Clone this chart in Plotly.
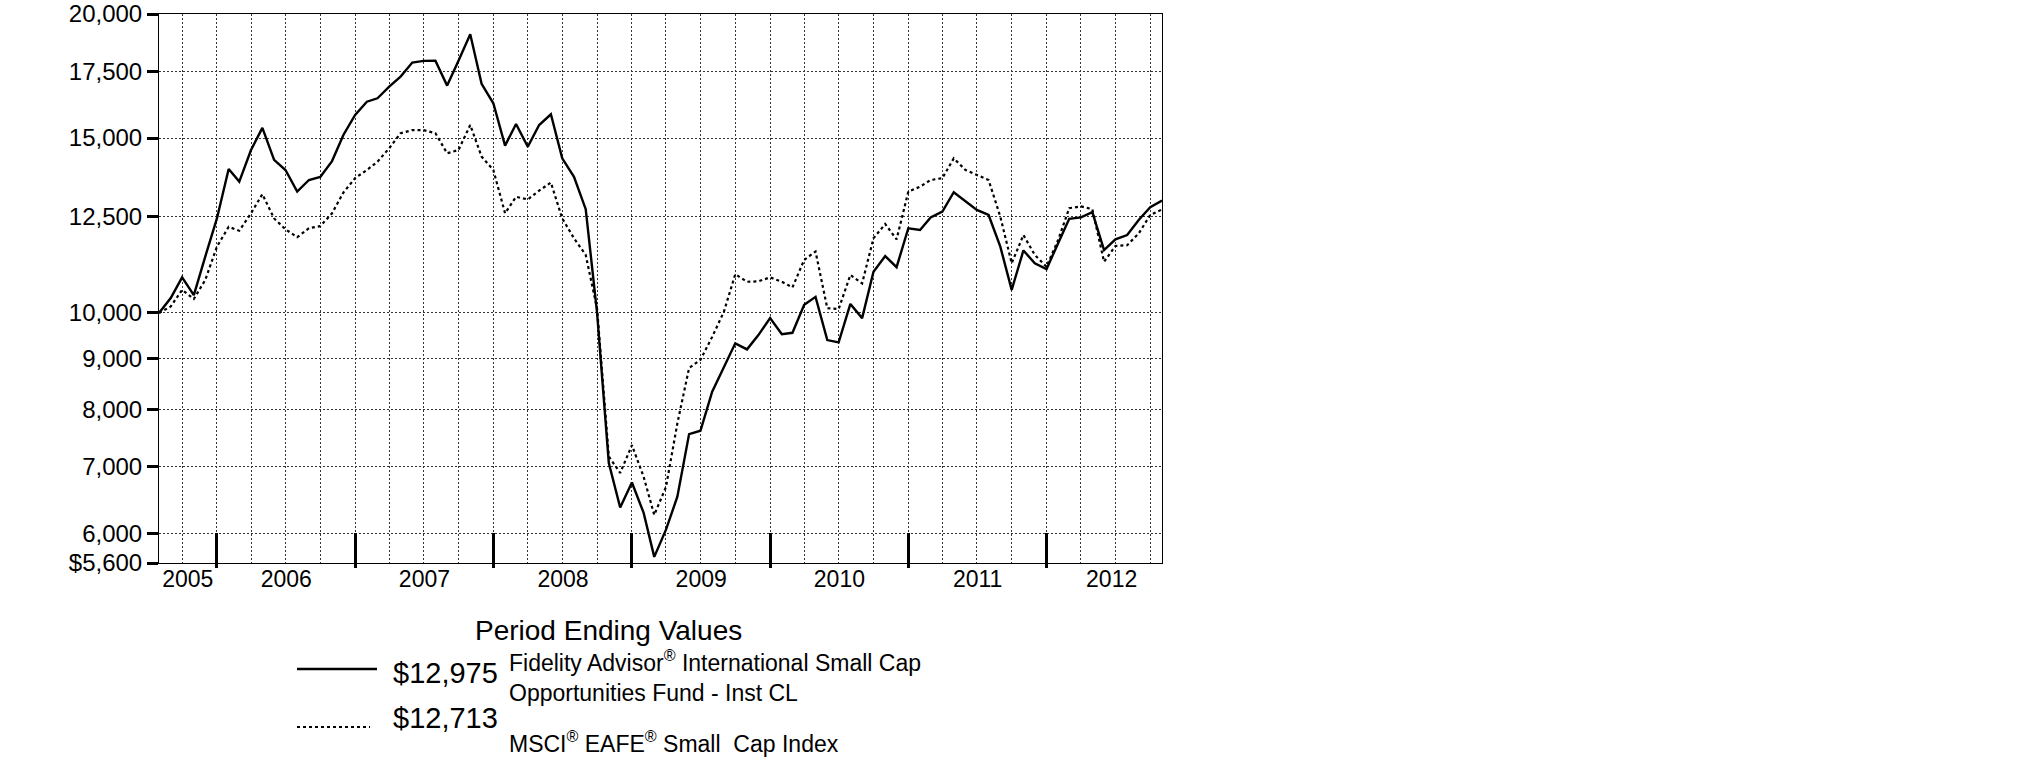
import math
import pandas as pd
import plotly.graph_objects as go

# ---------------- data ----------------
fund_values = [
    10000, 10350, 10860, 10420, 11390, 12450, 13960, 13560, 14590, 15360,
    14260, 13930, 13250, 13610, 13710, 14220, 15110, 15830, 16320, 16450,
    16900, 17300, 17870, 17940, 17950, 16940, 17950, 19080, 17010, 16260,
    14740, 15500, 14700, 15460, 15850, 14310, 13710, 12720, 10000, 7060,
    6370, 6750, 6290, 5680, 6050, 6530, 7550, 7610, 8330, 8830,
    9320, 9190, 9500, 9880, 9520, 9550, 10190, 10380, 9390, 9340,
    10210, 9880, 11000, 11410, 11120, 12170, 12120, 12480, 12650, 13230,
    12970, 12700, 12550, 11660, 10550, 11560, 11220, 11070, 11760, 12440,
    12480, 12630, 11570, 11860, 11980, 12410, 12780, 12975,
]
index_values = [
    10000, 10150, 10550, 10330, 10790, 11660, 12210, 12100, 12600, 13170,
    12450, 12140, 11920, 12170, 12230, 12600, 13220, 13670, 13930, 14200,
    14650, 15170, 15280, 15280, 15170, 14480, 14590, 15460, 14370, 13930,
    12600, 13090, 13010, 13280, 13530, 12450, 11890, 11440, 10100, 7170,
    6900, 7360, 6840, 6260, 6680, 7740, 8800, 8970, 9460, 10030,
    10940, 10750, 10760, 10860, 10750, 10610, 11310, 11530, 10110, 10090,
    10920, 10710, 11890, 12290, 11860, 13250, 13400, 13610, 13670, 14310,
    13930, 13760, 13610, 12500, 11220, 11980, 11440, 11130, 11850, 12750,
    12800, 12720, 11260, 11680, 11700, 12030, 12550, 12713,
]
start_date = "2005-07-31"
end_date = "2012-10-31"
dates = [d.strftime("%Y-%m-%d") for d in
         pd.date_range(start_date, periods=len(fund_values), freq=pd.offsets.MonthEnd())]

year_ends = ["2005-12-31", "2006-12-31", "2007-12-31", "2008-12-31",
             "2009-12-31", "2010-12-31", "2011-12-31"]
quarter_ends = [d.strftime("%Y-%m-%d") for d in
                pd.date_range("2005-09-30", "2012-09-30", freq=pd.offsets.QuarterEnd())]
year_labels = ["2005", "2006", "2007", "2008", "2009", "2010", "2011", "2012"]
year_label_dates = ["2005-10-15", "2006-07-02", "2007-07-02", "2008-07-02",
                    "2009-07-02", "2010-07-02", "2011-07-02", "2012-06-20"]

y_tick_values = [5600, 6000, 7000, 8000, 9000, 10000, 12500, 15000, 17500, 20000]
y_tick_labels = ["$5,600", "6,000", "7,000", "8,000", "9,000", "10,000",
                 "12,500", "15,000", "17,500", "20,000"]

fund_name = ("Fidelity Advisor<sup>®</sup> International Small Cap<br>"
             "Opportunities Fund - Inst CL")
index_name = "MSCI<sup>®</sup> EAFE<sup>®</sup> Small\u00a0 Cap Index"
fund_end_label = "$12,975"
index_end_label = "$12,713"
legend_title = "Period Ending Values"

# ---------------- layout geometry (pixels) ----------------
W, H = 2025, 773
PL, PR, PT, PB = 159, 1162, 14, 563
FONT = "Liberation Sans, Arial, Helvetica, sans-serif"
GRID = "#333333"
GDASH = "2px,2px"


def px(x):
    return (x - PL) / (PR - PL)


def py(y):
    return (PB - y) / (PB - PT)


fig = go.Figure()
fig.add_trace(go.Scatter(x=dates, y=index_values, mode="lines",
                         line=dict(color="black", width=2.2, dash="3px,3px"),
                         showlegend=False, hoverinfo="skip"))
fig.add_trace(go.Scatter(x=dates, y=fund_values, mode="lines",
                         line=dict(color="black", width=2.4),
                         showlegend=False, hoverinfo="skip"))
# helper traces so the overlaid label / tick axes are drawn
for ax in ("x2", "x3", "x4"):
    fig.add_trace(go.Scatter(x=dates, y=fund_values, mode="none", xaxis=ax,
                             showlegend=False, hoverinfo="skip"))

common_x = dict(type="date", range=[start_date, end_date], zeroline=False,
                automargin=False)

fig.update_layout(
    width=W, height=H,
    margin=dict(l=PL, r=W - PR, t=PT, b=H - PB, pad=0, autoexpand=False),
    paper_bgcolor="white", plot_bgcolor="white",
    font=dict(family=FONT, color="black"),
    # quarterly dotted grid + frame
    xaxis=dict(
        **common_x,
        showline=True, linecolor="black", linewidth=1, mirror=True,
        tickmode="array", tickvals=quarter_ends, showticklabels=False, ticks="",
        showgrid=True, gridcolor=GRID, gridwidth=1, griddash=GDASH,
    ),
    # year labels
    xaxis2=dict(
        **common_x, overlaying="x", anchor="y", side="bottom",
        showline=False, showgrid=False,
        tickmode="array", tickvals=year_label_dates, ticktext=year_labels,
        ticks="", tickfont=dict(family=FONT, size=23, color="black"),
    ),
    # year-end ticks (inside part)
    xaxis3=dict(
        **common_x, overlaying="x", anchor="y", side="bottom",
        showline=False, showgrid=False,
        tickmode="array", tickvals=year_ends, showticklabels=False,
        ticks="inside", ticklen=30, tickwidth=3, tickcolor="black",
    ),
    # year-end ticks (small outside part)
    xaxis4=dict(
        **common_x, overlaying="x", anchor="y", side="bottom",
        showline=False, showgrid=False,
        tickmode="array", tickvals=year_ends, showticklabels=False,
        ticks="outside", ticklen=4, tickwidth=3, tickcolor="black",
    ),
    yaxis=dict(
        type="log", range=[math.log10(5600), math.log10(20000)],
        automargin=False,
        showline=True, linecolor="black", linewidth=1, mirror=True,
        tickmode="array", tickvals=y_tick_values, ticktext=y_tick_labels,
        ticks="outside", ticklen=11, tickwidth=3, tickcolor="black",
        tickfont=dict(family=FONT, size=24, color="black"),
        ticklabeloverflow="allow",
        showgrid=True, gridcolor=GRID, gridwidth=1, griddash=GDASH,
        zeroline=False,
    ),
)

ann = [
    dict(text=legend_title, x=px(608), y=py(630), xanchor="center", size=28),
    dict(text=fund_end_label, x=px(392), y=py(673), xanchor="left", size=29),
    dict(text=fund_name, x=px(508), y=py(676), xanchor="left", size=23),
    dict(text=index_end_label, x=px(392), y=py(718), xanchor="left", size=29),
    dict(text=index_name, x=px(508), y=py(742), xanchor="left", size=23),
]
for a in ann:
    fig.add_annotation(text=a["text"], x=a["x"], y=a["y"], xref="paper", yref="paper",
                       xanchor=a["xanchor"], yanchor="middle", align="left",
                       showarrow=False, borderpad=0,
                       font=dict(family=FONT, size=a["size"], color="black"))

fig.add_shape(type="line", xref="paper", yref="paper",
              x0=px(297), x1=px(377), y0=py(669), y1=py(669),
              line=dict(color="black", width=2.5))
fig.add_shape(type="line", xref="paper", yref="paper",
              x0=px(297), x1=px(370), y0=py(727), y1=py(727),
              line=dict(color="black", width=2.2, dash="3px,3px"))

fig.write_html("out.html", config={"displayModeBar": False},
               post_script="document.body.style.margin='0px';")
